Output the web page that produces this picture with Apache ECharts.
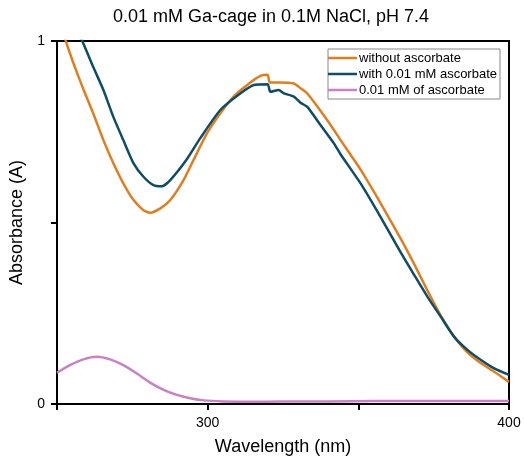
<!DOCTYPE html>
<html>
<head>
<meta charset="utf-8">
<script src="https://cdn.jsdelivr.net/npm/echarts@6/dist/echarts.min.js"></script>
<style>html,body{margin:0;padding:0;background:#fff}#c{width:524px;height:463px}</style>
</head>
<body>
<div id="c"></div>
<script>
const seriesNames = ['without ascorbate', 'with 0.01 mM ascorbate', '0.01 mM of ascorbate'];

const wlWithout = [250, 253, 255.4, 258.7, 262, 265.4, 268.7, 272, 275.4, 278.7, 280.9, 284.3, 287.6, 292, 295.3, 299.8, 304.2, 308.6, 313.1, 317.5, 319.9, 320.6, 324, 328.6, 330.8, 333, 337.5, 341.9, 344.1, 350.8, 357.4, 364.1, 368.5, 372.9, 377.4, 381.8, 386.2, 390.7, 395.1, 400];
const absWithout = [1.085, 0.998, 0.94, 0.868, 0.801, 0.727, 0.663, 0.608, 0.562, 0.534, 0.527, 0.539, 0.562, 0.617, 0.672, 0.746, 0.801, 0.847, 0.879, 0.904, 0.907, 0.886, 0.886, 0.883, 0.870, 0.856, 0.807, 0.755, 0.727, 0.645, 0.553, 0.455, 0.386, 0.313, 0.243, 0.186, 0.142, 0.112, 0.089, 0.061];

const wlWith = [250, 254, 258.5, 262, 265.4, 268.7, 272, 275.4, 278.7, 282, 284.8, 287.6, 292.9, 297.6, 304.2, 310.9, 315.3, 319.9, 320.8, 323.6, 325.3, 328.6, 330.8, 333, 337.5, 341.9, 344.1, 350.8, 357.4, 364.1, 368.5, 372.9, 377.4, 381.8, 386.2, 390.7, 395.1, 400];
const absWith = [1.165, 1.08, 0.998, 0.929, 0.865, 0.791, 0.727, 0.663, 0.626, 0.603, 0.600, 0.617, 0.672, 0.733, 0.810, 0.856, 0.879, 0.881, 0.860, 0.865, 0.856, 0.847, 0.830, 0.819, 0.768, 0.718, 0.688, 0.607, 0.515, 0.417, 0.356, 0.296, 0.240, 0.185, 0.149, 0.121, 0.098, 0.080];

const wlAsc = [250, 254.3, 258.7, 263.2, 267.6, 272, 276.5, 280.9, 285.4, 289.8, 294.2, 298.7, 305.3, 314, 325, 340, 355, 370, 385, 400];
const absAsc = [0.086, 0.107, 0.123, 0.130, 0.123, 0.107, 0.084, 0.059, 0.039, 0.025, 0.016, 0.010, 0.007, 0.006, 0.007, 0.007, 0.008, 0.008, 0.008, 0.008];

const xTickLabels = [300, 400];
const yTickLabels = [0, 1];

const colors = ['#E07E1E', '#0E4C68', '#C882C3'];
const FONT = '"Liberation Sans", Arial, sans-serif';

function pairs(xs, ys) { return xs.map((x, i) => [x, ys[i]]); }

const chart = echarts.init(document.getElementById('c'), null, {renderer: 'canvas'});
chart.setOption({
  animation: false,
  backgroundColor: '#fff',
  title: {
    text: '0.01 mM Ga-cage in 0.1M NaCl, pH 7.4',
    left: 113, top: 8, padding: 0,
    textStyle: {fontFamily: FONT, fontSize: 18, fontWeight: 'normal', color: '#000'}
  },
  legend: {
    data: seriesNames.map(n => ({name: n, icon: 'rect'})),
    orient: 'vertical',
    left: 328, top: 49,
    padding: [1, 3, 1, 0],
    itemGap: 0,
    itemWidth: 29, itemHeight: 2.5,
    backgroundColor: '#fff',
    borderColor: '#888', borderWidth: 1,
    textStyle: {fontFamily: FONT, fontSize: 13, color: '#000', lineHeight: 16, padding: [0, 0, 0, -3]}
  },
  grid: {left: 57, right: 15, top: 41, bottom: 59, show: true, borderColor: '#000', borderWidth: 2, backgroundColor: 'transparent'},
  xAxis: {
    type: 'value', min: 250, max: 400, interval: 50,
    name: 'Wavelength (nm)', nameLocation: 'middle', nameGap: 34,
    nameTextStyle: {fontFamily: FONT, fontSize: 18, color: '#000'},
    axisLine: {show: true, lineStyle: {color: '#000', width: 2}},
    axisTick: {show: true, inside: false, length: 6, lineStyle: {color: '#000', width: 2}},
    axisLabel: {margin: 12, fontFamily: FONT, fontSize: 14, color: '#000',
      formatter: v => xTickLabels.includes(v) ? String(v) : ''},
    splitLine: {show: false}
  },
  yAxis: {
    type: 'value', min: 0, max: 1, interval: 0.5,
    name: 'Absorbance (A)', nameLocation: 'middle', nameGap: 28,
    nameTextStyle: {fontFamily: FONT, fontSize: 18, color: '#000'},
    axisLine: {show: true, lineStyle: {color: '#000', width: 2}},
    axisTick: {show: true, inside: false, length: 6, lineStyle: {color: '#000', width: 2}},
    axisLabel: {margin: 12, fontFamily: FONT, fontSize: 14, color: '#000',
      formatter: v => yTickLabels.includes(v) ? String(v) : ''},
    splitLine: {show: false}
  },
  series: [
    {name: seriesNames[0], type: 'line', data: pairs(wlWithout, absWithout), showSymbol: false, clip: true, smooth: 0.2,
     lineStyle: {color: colors[0], width: 2.5}, itemStyle: {color: colors[0]}},
    {name: seriesNames[1], type: 'line', data: pairs(wlWith, absWith), showSymbol: false, clip: true, smooth: 0.2,
     lineStyle: {color: colors[1], width: 2.5}, itemStyle: {color: colors[1]}},
    {name: seriesNames[2], type: 'line', data: pairs(wlAsc, absAsc), showSymbol: false, clip: true, smooth: 0.2,
     lineStyle: {color: colors[2], width: 2.5}, itemStyle: {color: colors[2]}}
  ]
});
</script>
</body>
</html>
